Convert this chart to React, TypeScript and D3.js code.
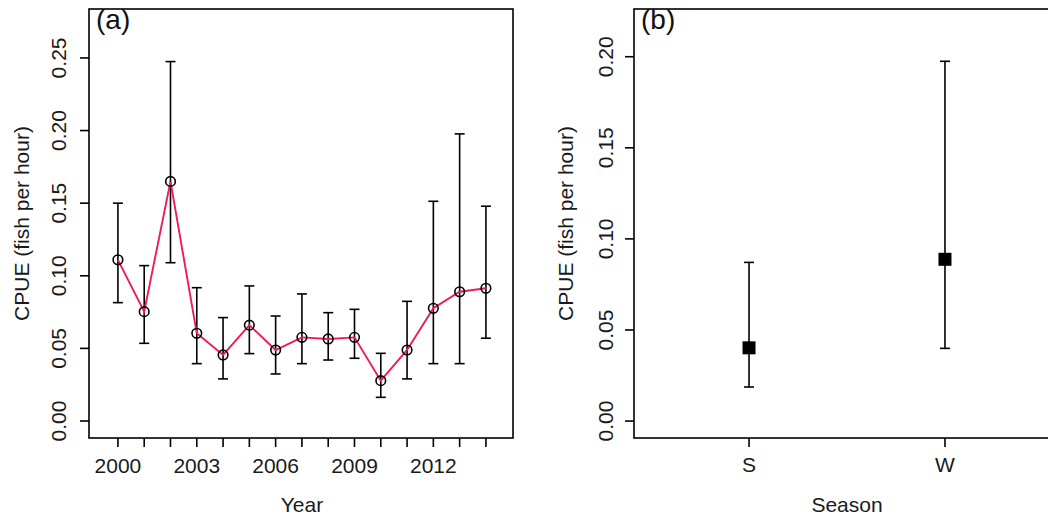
import React from "react";
import * as d3 from "d3";

const years = [2000, 2001, 2002, 2003, 2004, 2005, 2006, 2007, 2008, 2009, 2010, 2011, 2012, 2013, 2014];
const yearCpue = [0.111, 0.0753, 0.165, 0.0604, 0.0455, 0.066, 0.0489, 0.0576, 0.0565, 0.0576, 0.0278, 0.0489, 0.0776, 0.089, 0.0914];
const yearUpper = [0.150, 0.107, 0.2475, 0.0918, 0.0712, 0.093, 0.0723, 0.0875, 0.0746, 0.0769, 0.0466, 0.0824, 0.1513, 0.1977, 0.1479];
const yearLower = [0.0815, 0.0535, 0.109, 0.0395, 0.029, 0.0464, 0.0324, 0.0395, 0.042, 0.0432, 0.0163, 0.029, 0.0395, 0.0395, 0.057];
const yearLabels = [2000, 2003, 2006, 2009, 2012];
const yTicksA = [0, 0.05, 0.1, 0.15, 0.2, 0.25];

const seasons = ["S", "W"];
const seasonCpue = [0.0402, 0.0888];
const seasonUpper = [0.0871, 0.1975];
const seasonLower = [0.0187, 0.0399];
const yTicksB = [0, 0.05, 0.1, 0.15, 0.2];

const FONT = "'Liberation Sans', Arial, Helvetica, sans-serif";
const TOP = 9;
const BOTTOM = 438;
const RED = "#ee1b55";
const TXT = "#1a1a1a";

export default function App() {
  // Panel (a)
  const xA = d3.scaleLinear().domain([1998.9, 2015.03]).range([89, 513]);
  const yA = d3.scaleLinear().domain([-0.0117, 0.2837]).range([BOTTOM, TOP]);
  const line = d3
    .line<number>()
    .x((_, i) => xA(years[i]))
    .y((d) => yA(d));

  // Panel (b)
  const xB = d3.scalePoint<string>().domain(seasons).range([634, 1060]).padding(0.587);
  const yB = d3.scaleLinear().domain([-0.0093, 0.2262]).range([BOTTOM, TOP]);

  const fmt = d3.format(".2f");
  const tickLen = 9;
  const cap = 5;

  return (
    <svg
      width={1048}
      height={520}
      style={{ position: "absolute", left: 0, top: 0, background: "#fff" }}
      fontFamily={FONT}
    >
      <rect x={0} y={0} width={1048} height={520} fill="#fff" />

      {/* ===== Panel (a) ===== */}
      <g>
        {years.map((yr, i) => (
          <g key={"eb" + yr} stroke="#000" strokeWidth={1.6}>
            <line x1={xA(yr)} x2={xA(yr)} y1={yA(yearUpper[i])} y2={yA(yearLower[i])} />
            <line x1={xA(yr) - cap} x2={xA(yr) + cap} y1={yA(yearUpper[i])} y2={yA(yearUpper[i])} />
            <line x1={xA(yr) - cap} x2={xA(yr) + cap} y1={yA(yearLower[i])} y2={yA(yearLower[i])} />
          </g>
        ))}
        <path d={line(yearCpue) || ""} fill="none" stroke={RED} strokeWidth={1.9} />
        {years.map((yr, i) => (
          <circle key={"pt" + yr} cx={xA(yr)} cy={yA(yearCpue[i])} r={4.8} fill="none" stroke="#000" strokeWidth={1.6} />
        ))}
        <rect x={89} y={TOP} width={513 - 89} height={BOTTOM - TOP} fill="none" stroke="#000" strokeWidth={1.6} />
        {yTicksA.map((t) => (
          <g key={"ya" + t}>
            <line x1={89 - tickLen} x2={89} y1={yA(t)} y2={yA(t)} stroke="#000" strokeWidth={1.6} />
            <text
              transform={`translate(58,${yA(t)}) rotate(-90)`}
              textAnchor="middle"
              dy="0.36em"
              fontSize={21}
              fill={TXT}
            >
              {fmt(t)}
            </text>
          </g>
        ))}
        {years.map((yr) => (
          <line key={"xt" + yr} x1={xA(yr)} x2={xA(yr)} y1={BOTTOM} y2={BOTTOM + tickLen} stroke="#000" strokeWidth={1.6} />
        ))}
        {yearLabels.map((yr) => (
          <text key={"xl" + yr} x={xA(yr)} y={473} textAnchor="middle" fontSize={21} fill={TXT}>
            {yr}
          </text>
        ))}
        <text x={302} y={512} textAnchor="middle" fontSize={21} fill={TXT}>
          Year
        </text>
        <text transform={`translate(29,${(TOP + BOTTOM) / 2}) rotate(-90)`} textAnchor="middle" fontSize={21} fill={TXT}>
          CPUE (fish per hour)
        </text>
        <text x={96} y={29} fontSize={28} fill="#111">
          (a)
        </text>
      </g>

      {/* ===== Panel (b) ===== */}
      <g>
        {seasons.map((s, i) => (
          <g key={"ebb" + s} stroke="#000" strokeWidth={1.6}>
            <line x1={xB(s)!} x2={xB(s)!} y1={yB(seasonUpper[i])} y2={yB(seasonLower[i])} />
            <line x1={xB(s)! - cap} x2={xB(s)! + cap} y1={yB(seasonUpper[i])} y2={yB(seasonUpper[i])} />
            <line x1={xB(s)! - cap} x2={xB(s)! + cap} y1={yB(seasonLower[i])} y2={yB(seasonLower[i])} />
          </g>
        ))}
        {seasons.map((s, i) => (
          <rect key={"sq" + s} x={xB(s)! - 6.5} y={yB(seasonCpue[i]) - 6.5} width={13} height={13} fill="#000" />
        ))}
        <rect x={634} y={TOP} width={1060 - 634} height={BOTTOM - TOP} fill="none" stroke="#000" strokeWidth={1.6} />
        {yTicksB.map((t) => (
          <g key={"yb" + t}>
            <line x1={634 - tickLen} x2={634} y1={yB(t)} y2={yB(t)} stroke="#000" strokeWidth={1.6} />
            <text
              transform={`translate(605,${yB(t)}) rotate(-90)`}
              textAnchor="middle"
              dy="0.36em"
              fontSize={21}
              fill={TXT}
            >
              {fmt(t)}
            </text>
          </g>
        ))}
        {seasons.map((s) => (
          <g key={"xb" + s}>
            <line x1={xB(s)!} x2={xB(s)!} y1={BOTTOM} y2={BOTTOM + tickLen} stroke="#000" strokeWidth={1.6} />
            <text x={xB(s)!} y={472} textAnchor="middle" fontSize={21} fill={TXT}>
              {s}
            </text>
          </g>
        ))}
        <text x={847} y={512} textAnchor="middle" fontSize={21} fill={TXT}>
          Season
        </text>
        <text transform={`translate(573,${(TOP + BOTTOM) / 2}) rotate(-90)`} textAnchor="middle" fontSize={21} fill={TXT}>
          CPUE (fish per hour)
        </text>
        <text x={641} y={29} fontSize={28} fill="#111">
          (b)
        </text>
      </g>
    </svg>
  );
}
